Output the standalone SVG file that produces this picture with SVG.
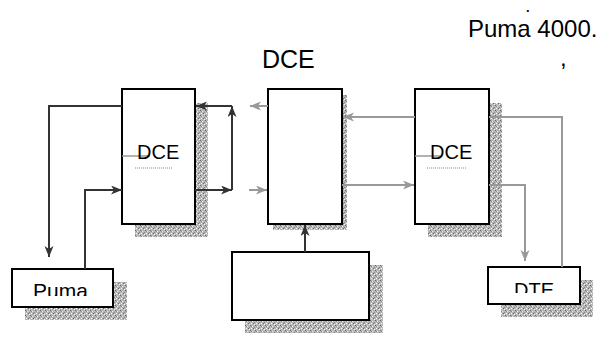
<svg xmlns="http://www.w3.org/2000/svg" width="612" height="338" viewBox="0 0 612 338">
<style>
.box{fill:#fff;stroke:#000;stroke-width:2}
.sh{fill:url(#stip);stroke:none}
.dk{fill:none;stroke:#333;stroke-width:2}
.gr{fill:none;stroke:#999;stroke-width:2}
.stub{fill:none;stroke:#999;stroke-width:1.5}
.tiny{fill:none;stroke:#888;stroke-width:1;stroke-dasharray:1 1}
.t{font-family:"Liberation Sans",Arial,sans-serif;fill:#000}
</style>
<defs>
<pattern id="stip" width="5" height="5" patternUnits="userSpaceOnUse">
<rect width="5" height="5" fill="#b8b8b8"/>
<rect x="0" y="0" width="1" height="1" fill="#666"/>
<rect x="2" y="1" width="1" height="1" fill="#eee"/>
<rect x="3" y="3" width="1" height="1" fill="#6a6a6a"/>
<rect x="1" y="3" width="1" height="1" fill="#fff"/>
<rect x="4" y="2" width="1" height="1" fill="#888"/>
<rect x="1" y="1" width="1" height="1" fill="#8a8a8a"/>
<rect x="4" y="4" width="1" height="1" fill="#f5f5f5"/>
</pattern>
<marker id="ad" markerUnits="userSpaceOnUse" markerWidth="12" markerHeight="10" refX="11" refY="4.5" orient="auto">
<path d="M0,0 L11,4.5 L0,9 L3,4.5 z" fill="#333"/>
</marker>
<marker id="ag" markerUnits="userSpaceOnUse" markerWidth="12" markerHeight="10" refX="11" refY="4.5" orient="auto">
<path d="M0,0 L11,4.5 L0,9 L3,4.5 z" fill="#999"/>
</marker>
<clipPath id="cpPuma"><rect x="12" y="269" width="101" height="27"/></clipPath>
<clipPath id="cpDte"><rect x="488" y="267" width="92" height="26"/></clipPath>
</defs>

<rect width="612" height="338" fill="#fff"/>

<g id="titles">
<text class="t" x="526" y="12" font-size="13" font-weight="bold">.</text>
<text class="t" x="468" y="37" font-size="24">Puma 4000.</text>
<text class="t" x="262" y="68" font-size="25">DCE</text>
<text class="t" x="560" y="66" font-size="24">,</text>
</g>

<g id="dce-left">
<rect class="sh" x="135" y="103" width="73" height="134"/>
<rect class="box" x="122" y="89" width="73" height="135"/>
<line class="stub" x1="122" y1="156" x2="150" y2="156"/>
<text class="t" x="137" y="159" font-size="20">DCE</text>
<line class="tiny" x1="135" y1="168" x2="172" y2="168"/>
</g>

<g id="dce-middle">
<rect class="sh" x="273" y="95" width="74" height="135"/>
<rect class="box" x="268" y="89" width="74" height="135"/>
</g>

<g id="dce-right">
<rect class="sh" x="428" y="103" width="74" height="134"/>
<rect class="box" x="415" y="89" width="74" height="135"/>
<line class="stub" x1="415" y1="156" x2="440" y2="156"/>
<text class="t" x="430" y="159" font-size="20">DCE</text>
<line class="tiny" x1="427" y1="168" x2="467" y2="168"/>
</g>

<g id="puma">
<rect class="sh" x="25" y="282" width="102" height="38"/>
<rect class="box" x="12" y="269" width="101" height="38"/>
<text class="t" x="33" y="298" font-size="21" clip-path="url(#cpPuma)">Puma</text>
</g>

<g id="bottom-box">
<rect class="sh" x="245" y="265" width="138" height="68"/>
<rect class="box" x="232" y="252" width="137" height="68"/>
</g>

<g id="dte">
<rect class="sh" x="501" y="280" width="92" height="37"/>
<rect class="box" x="488" y="267" width="92" height="37"/>
<text class="t" x="514" y="297" font-size="20" clip-path="url(#cpDte)">DTE</text>
</g>

<g id="connectors">
<polyline class="dk" points="122,106 49,106 49,257" marker-end="url(#ad)"/>
<polyline class="dk" points="85,269 85,190 122,190" marker-end="url(#ad)"/>
<line class="dk" x1="195" y1="190" x2="232" y2="190" marker-end="url(#ad)"/>
<line class="dk" x1="232" y1="190" x2="232" y2="106" marker-end="url(#ad)"/>
<line class="dk" x1="232" y1="106" x2="196" y2="106" marker-end="url(#ad)"/>
<line class="dk" x1="305" y1="252" x2="305" y2="225" marker-end="url(#ad)"/>
<line class="gr" x1="268" y1="106" x2="250" y2="106" marker-end="url(#ag)"/>
<line class="gr" x1="249" y1="190" x2="267" y2="190" marker-end="url(#ag)"/>
<line class="gr" x1="415" y1="117" x2="343" y2="117" marker-end="url(#ag)"/>
<line class="gr" x1="342" y1="185" x2="414" y2="185" marker-end="url(#ag)"/>
<polyline class="gr" points="562,267 562,117 489,117"/>
<polyline class="gr" points="489,185 525,185 525,261" marker-end="url(#ag)"/>
</g>
</svg>
